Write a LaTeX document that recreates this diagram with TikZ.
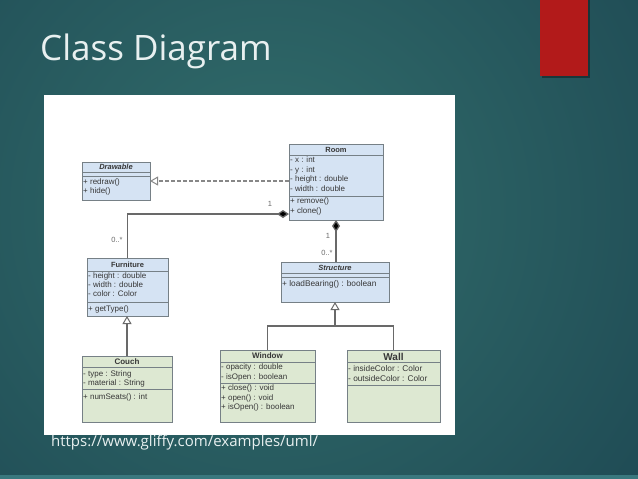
\documentclass[tikz,border=0pt]{standalone}
\usepackage{fontspec}
\setmainfont{Open Sans}
\newfontfamily\umlfont{Liberation Sans}
\usetikzlibrary{arrows.meta,calc}
\definecolor{bgdark}{RGB}{21,56,72}
\definecolor{bglight}{RGB}{50,110,108}
\definecolor{redbar}{RGB}{178,26,26}
\definecolor{bluefill}{RGB}{213,227,243}
\definecolor{greenfill}{RGB}{221,232,210}
\definecolor{boxline}{RGB}{118,128,134}
\definecolor{umltext}{RGB}{55,55,55}
\definecolor{connline}{RGB}{105,105,105}
\definecolor{slidetext}{RGB}{232,240,240}
\definecolor{bottomband}{RGB}{58,120,126}
\tikzset{
  clsbox/.style={draw=boxline, line width=1pt, anchor=north west, inner sep=0pt, outer sep=0pt},
  bluebox/.style={clsbox, fill=bluefill},
  greenbox/.style={clsbox, fill=greenfill},
  sepline/.style={draw=boxline, line width=0.8pt},
  clstitle/.style={font=\umlfont\fontsize{7.5}{8}\selectfont\bfseries, text=umltext, inner sep=0pt},
  clsitem/.style={font=\umlfont\fontsize{8}{9}\selectfont, text=umltext, anchor=west, inner sep=0pt},
  multlabel/.style={font=\umlfont\fontsize{7.5}{8}\selectfont, text=connline, inner sep=0pt},
  conn/.style={draw=connline, line width=1.3pt},
  dashconn/.style={draw=connline!80, line width=1.2pt, dash pattern=on 4pt off 2pt},
  comptip/.style={{Diamond[length=12pt,width=8pt,fill=black]}-},
  gentip/.style={-{Triangle[length=8pt,width=9pt,fill=white,line width=1pt]}},
}
\begin{document}
\begin{tikzpicture}[x=1pt,y=-1pt]
\useasboundingbox (0,0) rectangle (638,479);
% background
\fill[bgdark] (0,0) rectangle (638,479);
\begin{scope}
  \clip (0,0) rectangle (638,479);
  \shade[inner color=bglight, outer color=bgdark] (270,210) circle (720);
\end{scope}
\fill[bottomband] (0,475) rectangle (638,479);
% red bar
\fill[black, opacity=0.35] (542,0) rectangle (590,78);
\fill[redbar] (540,0) rectangle (588,76);
% title
\node[anchor=base west, inner sep=0pt, text=slidetext, font=\fontsize{35}{40}\selectfont] (title) at (40,60) {Class Diagram};
% panel
\fill[white] (44,95) rectangle (455,435);
\node[anchor=west, inner sep=0pt, text=slidetext, font=\fontsize{15}{17}\selectfont] (url) at (51,443) {https://www.gliffy.com/examples/uml/};

% ---- Drawable
\node[bluebox, minimum width=68pt, minimum height=38pt] (drawable) at (82,162) {};
\draw[sepline] (82,172) -- (150,172);
\draw[sepline] (82,176) -- (150,176);
\node[clstitle, font=\umlfont\fontsize{7.5}{8}\selectfont\bfseries\itshape] (drawable-t) at (116,167) {Drawable};
\node[clsitem] (drawable-m1) at (83,182.5) {+ redraw()};
\node[clsitem] (drawable-m2) at (83,191) {+ hide()};

% ---- Room
\node[bluebox, minimum width=94pt, minimum height=76pt] (room) at (289,144) {};
\draw[sepline] (289,155) -- (383,155);
\draw[sepline] (289,196) -- (383,196);
\node[clstitle] (room-t) at (336,150) {Room};
\node[clsitem] (room-a1) at (290,160) {- x : int};
\node[clsitem] (room-a2) at (290,170) {- y : int};
\node[clsitem] (room-a3) at (290,179.5) {- height : double};
\node[clsitem] (room-a4) at (290,189) {- width : double};
\node[clsitem] (room-m1) at (290,201) {+ remove()};
\node[clsitem] (room-m2) at (290,211.5) {+ clone()};

% ---- Furniture
\node[bluebox, minimum width=81pt, minimum height=58pt] (furniture) at (87,258) {};
\draw[sepline] (87,271) -- (168,271);
\draw[sepline] (87,302) -- (168,302);
\node[clstitle] (furniture-t) at (127.5,265) {Furniture};
\node[clsitem] (furniture-a1) at (88,276) {- height : double};
\node[clsitem] (furniture-a2) at (88,285) {- width : double};
\node[clsitem] (furniture-a3) at (88,294) {- color : Color};
\node[clsitem] (furniture-m1) at (88,309) {+ getType()};

% ---- Structure
\node[bluebox, minimum width=108pt, minimum height=40pt] (structure) at (281,262) {};
\draw[sepline] (281,273) -- (389,273);
\draw[sepline] (281,277) -- (389,277);
\node[clstitle, font=\umlfont\fontsize{7.5}{8}\selectfont\bfseries\itshape] (structure-t) at (335,268) {Structure};
\node[clsitem, font=\umlfont\fontsize{8.3}{9}\selectfont] (structure-m1) at (282,284) {+ loadBearing() : boolean};

% ---- Couch
\node[greenbox, minimum width=90pt, minimum height=66pt] (couch) at (82,356) {};
\draw[sepline] (82,367) -- (172,367);
\draw[sepline] (82,389) -- (172,389);
\node[clstitle, font=\umlfont\fontsize{8}{9}\selectfont\bfseries] (couch-t) at (127,362) {Couch};
\node[clsitem] (couch-a1) at (83,374) {- type : String};
\node[clsitem] (couch-a2) at (83,383) {- material : String};
\node[clsitem] (couch-m1) at (83,397) {+ numSeats() : int};

% ---- Window
\node[greenbox, minimum width=95pt, minimum height=72pt] (window) at (220,350) {};
\draw[sepline] (220,362) -- (315,362);
\draw[sepline] (220,383) -- (315,383);
\node[clstitle, font=\umlfont\fontsize{8}{9}\selectfont\bfseries] (window-t) at (267.5,356) {Window};
\node[clsitem] (window-a1) at (221,367) {- opacity : double};
\node[clsitem] (window-a2) at (221,377) {- isOpen : boolean};
\node[clsitem] (window-m1) at (221,388) {+ close() : void};
\node[clsitem] (window-m2) at (221,398) {+ open() : void};
\node[clsitem] (window-m3) at (221,407.5) {+ isOpen() : boolean};

% ---- Wall
\node[greenbox, minimum width=93pt, minimum height=72pt] (wall) at (347,350) {};
\draw[sepline] (347,362) -- (440,362);
\draw[sepline] (347,385) -- (440,385);
\node[clstitle, font=\umlfont\fontsize{10}{11}\selectfont\bfseries] (wall-t) at (393.5,356.5) {Wall};
\node[clsitem, font=\umlfont\fontsize{8.3}{9}\selectfont] (wall-a1) at (348,369) {- insideColor : Color};
\node[clsitem, font=\umlfont\fontsize{8.3}{9}\selectfont] (wall-a2) at (348,379) {- outsideColor : Color};

% ---- connectors
\draw[dashconn, gentip] (room.west |- drawable.east) -- (drawable.east);
\draw[conn, comptip] ($(room.south west)+(0,-6)$) -| (furniture.north);
\draw[conn, comptip] (room.south) -- (room.south |- structure.north);
\draw[conn, gentip] (couch.north) -- (couch.north |- furniture.south);
\coordinate (genjoin) at (335,326);
\draw[conn] (window.north) |- (genjoin) -| (wall.north);
\draw[conn, gentip] (genjoin) -- (structure.south);

% multiplicities
\node[multlabel] (m-room-f) at (270,204) {1};
\node[multlabel] (m-furn) at (117,240) {0..*};
\node[multlabel] (m-room-s) at (328,236) {1};
\node[multlabel] (m-struct) at (327,253) {0..*};
\end{tikzpicture}
\end{document}
